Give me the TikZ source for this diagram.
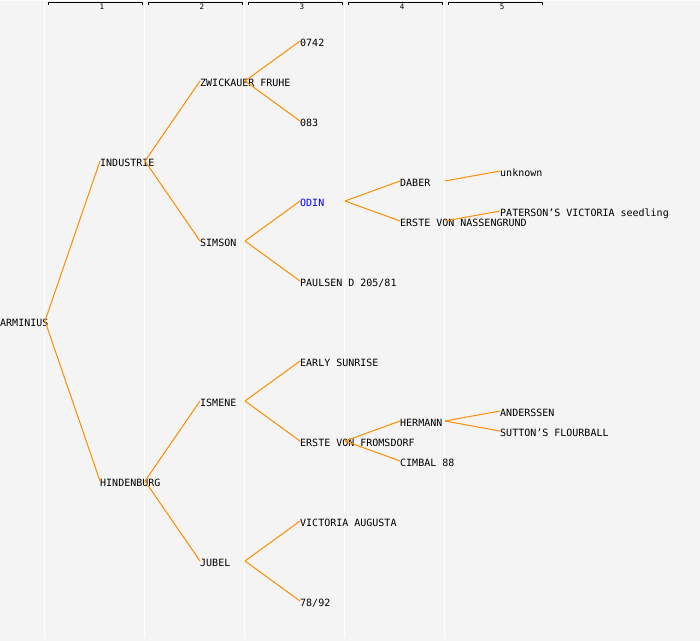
\documentclass[tikz,border=0pt]{standalone}
\usepackage{fontspec}
\setmonofont{DejaVu Sans Mono}
\definecolor{bg}{RGB}{244,244,244}
\definecolor{branch}{RGB}{255,140,0}

\begin{document}
\begin{tikzpicture}[line cap=butt,x=1pt,y=-1pt,
  cultivar/.style={anchor=base west,inner sep=0pt,font=\ttfamily\fontsize{10}{12}\selectfont},
  gen/.style={inner sep=0pt,font=\ttfamily\fontsize{7.5}{9}\selectfont},
  edge/.style={draw=branch,line width=1pt}]
\fill[bg] (0,0) rectangle (700,640);

\draw [white,line width=1pt] (44.5,0) -- (44.5,637);
\draw [white,line width=1pt] (144.5,0) -- (144.5,637);
\draw [white,line width=1pt] (244.5,0) -- (244.5,637);
\draw [white,line width=1pt] (344.5,0) -- (344.5,637);
\draw [white,line width=1pt] (444.5,0) -- (444.5,637);

\draw [line width=1pt] (48.5,4) -- (48.5,1.5) -- (142.5,1.5) -- (142.5,4);
\draw [line width=1pt] (148.5,4) -- (148.5,1.5) -- (242.5,1.5) -- (242.5,4);
\draw [line width=1pt] (248.5,4) -- (248.5,1.5) -- (342.5,1.5) -- (342.5,4);
\draw [line width=1pt] (348.5,4) -- (348.5,1.5) -- (442.5,1.5) -- (442.5,4);
\draw [line width=1pt] (448.5,4) -- (448.5,1.5) -- (542.5,1.5) -- (542.5,4);
\node[gen] (gen1) at (102,6.5) {1};
\node[gen] (gen2) at (202,6.5) {2};
\node[gen] (gen3) at (302,6.5) {3};
\node[gen] (gen4) at (402,6.5) {4};
\node[gen] (gen5) at (502,6.5) {5};

\node[cultivar] (arminius) at (0,326) {ARMINIUS};
\node[cultivar] (industrie) at (100,166) {INDUSTRIE};
\node[cultivar] (hindenburg) at (100,486) {HINDENBURG};
\node[cultivar] (zwickauer) at (200,86) {ZWICKAUER FRUHE};
\node[cultivar] (simson) at (200,246) {SIMSON};
\node[cultivar] (ismene) at (200,406) {ISMENE};
\node[cultivar] (jubel) at (200,566) {JUBEL};
\node[cultivar] (n0742) at (300,46) {0742};
\node[cultivar] (n083) at (300,126) {083};
\node[cultivar,text=blue] (odin) at (300,206) {ODIN};
\node[cultivar] (paulsen) at (300,286) {PAULSEN D 205/81};
\node[cultivar] (sunrise) at (300,366) {EARLY SUNRISE};
\node[cultivar] (fromsdorf) at (300,446) {ERSTE VON FROMSDORF};
\node[cultivar] (augusta) at (300,526) {VICTORIA AUGUSTA};
\node[cultivar] (n7892) at (300,606) {78/92};
\node[cultivar] (daber) at (400,186) {DABER};
\node[cultivar] (nassengrund) at (400,226) {ERSTE VON NASSENGRUND};
\node[cultivar] (hermann) at (400,426) {HERMANN};
\node[cultivar] (cimbal) at (400,466) {CIMBAL 88};
\node[cultivar] (unknown) at (500,176) {unknown};
\node[cultivar] (paterson) at (500,216) {PATERSON’S VICTORIA seedling};
\node[cultivar] (anderssen) at (500,416) {ANDERSSEN};
\node[cultivar] (sutton) at (500,436) {SUTTON’S FLOURBALL};

\draw [edge] ([shift={(45,-5.5)}]arminius.base west) -- ([shift={(0,-5.5)}]industrie.base west);
\draw [edge] ([shift={(45,-5.5)}]arminius.base west) -- ([shift={(0,-5.5)}]hindenburg.base west);
\draw [edge] ([shift={(45,-5.5)}]industrie.base west) -- ([shift={(0,-5.5)}]zwickauer.base west);
\draw [edge] ([shift={(45,-5.5)}]industrie.base west) -- ([shift={(0,-5.5)}]simson.base west);
\draw [edge] ([shift={(45,-5.5)}]hindenburg.base west) -- ([shift={(0,-5.5)}]ismene.base west);
\draw [edge] ([shift={(45,-5.5)}]hindenburg.base west) -- ([shift={(0,-5.5)}]jubel.base west);
\draw [edge] ([shift={(45,-5.5)}]zwickauer.base west) -- ([shift={(0,-5.5)}]n0742.base west);
\draw [edge] ([shift={(45,-5.5)}]zwickauer.base west) -- ([shift={(0,-5.5)}]n083.base west);
\draw [edge] ([shift={(45,-5.5)}]simson.base west) -- ([shift={(0,-5.5)}]odin.base west);
\draw [edge] ([shift={(45,-5.5)}]simson.base west) -- ([shift={(0,-5.5)}]paulsen.base west);
\draw [edge] ([shift={(45,-5.5)}]ismene.base west) -- ([shift={(0,-5.5)}]sunrise.base west);
\draw [edge] ([shift={(45,-5.5)}]ismene.base west) -- ([shift={(0,-5.5)}]fromsdorf.base west);
\draw [edge] ([shift={(45,-5.5)}]jubel.base west) -- ([shift={(0,-5.5)}]augusta.base west);
\draw [edge] ([shift={(45,-5.5)}]jubel.base west) -- ([shift={(0,-5.5)}]n7892.base west);
\draw [edge] ([shift={(45,-5.5)}]odin.base west) -- ([shift={(0,-5.5)}]daber.base west);
\draw [edge] ([shift={(45,-5.5)}]odin.base west) -- ([shift={(0,-5.5)}]nassengrund.base west);
\draw [edge] ([shift={(45,-5.5)}]fromsdorf.base west) -- ([shift={(0,-5.5)}]hermann.base west);
\draw [edge] ([shift={(45,-5.5)}]fromsdorf.base west) -- ([shift={(0,-5.5)}]cimbal.base west);
\draw [edge] ([shift={(45,-5.5)}]daber.base west) -- ([shift={(0,-5.5)}]unknown.base west);
\draw [edge] ([shift={(45,-5.5)}]nassengrund.base west) -- ([shift={(0,-5.5)}]paterson.base west);
\draw [edge] ([shift={(45,-5.5)}]hermann.base west) -- ([shift={(0,-5.5)}]anderssen.base west);
\draw [edge] ([shift={(45,-5.5)}]hermann.base west) -- ([shift={(0,-5.5)}]sutton.base west);
\end{tikzpicture}
\end{document}
